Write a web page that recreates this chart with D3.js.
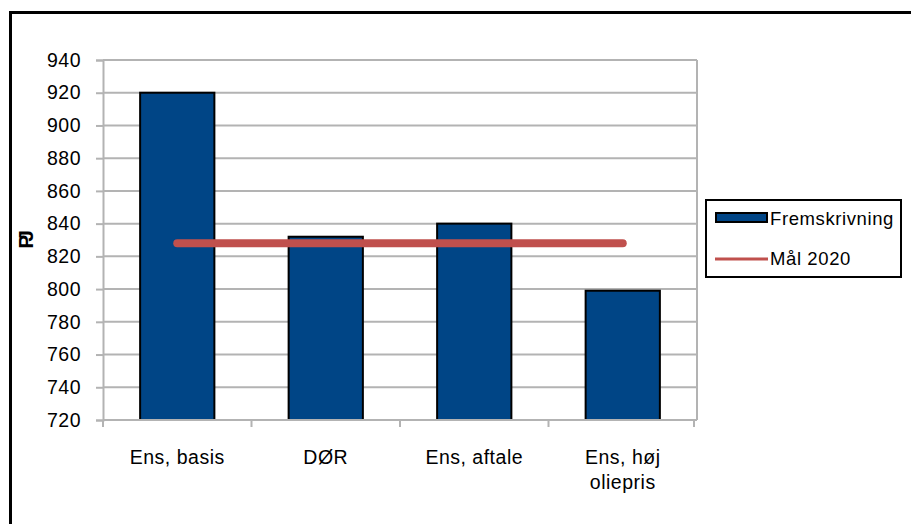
<!DOCTYPE html>
<html>
<head>
<meta charset="utf-8">
<script src="https://cdn.jsdelivr.net/npm/d3@7"></script>
<style>
  html, body { margin: 0; padding: 0; background: #fff; }
  svg text { font-family: "Liberation Sans", Arial, sans-serif; fill: #000; }
</style>
</head>
<body>
<svg id="chart" width="911" height="524"></svg>
<script>
// Scenario categories (multi-line labels split on "\n")
const categories = ["Ens, basis", "DØR", "Ens, aftale", "Ens, høj\noliepris"];
// Projected energy use (PJ) per scenario
const fremskrivning = [920, 832, 840, 799];
// 2020 target (PJ), same for all scenarios
const maal2020 = [828, 828, 828, 828];
const yTicks = [720, 740, 760, 780, 800, 820, 840, 860, 880, 900, 920, 940];
const seriesNames = ["Fremskrivning", "Mål 2020"];

const svg = d3.select("#chart");
const plot = { left: 103, right: 697, top: 60, bottom: 420 };
const blue = "#004586", red = "#c0504d", grid = "#b3b3b3";
const fontSize = 19.5, spacing = "0.5px";

// Outer frame (extends past the right and bottom edges)
svg.append("rect")
  .attr("x", 10.5).attr("y", 12.5).attr("width", 1000).attr("height", 1000)
  .attr("fill", "none").attr("stroke", "#000").attr("stroke-width", 3);

const x = d3.scaleBand().domain(categories).range([plot.left, plot.right]).padding(0);
const y = d3.scaleLinear().domain([720, 940]).range([plot.bottom, plot.top]);

// Horizontal gridlines
svg.append("g").selectAll("line").data(yTicks).join("line")
  .attr("x1", plot.left).attr("x2", plot.right)
  .attr("y1", d => y(d)).attr("y2", d => y(d))
  .attr("stroke", grid).attr("stroke-width", 2);

// Right edge of plot area
svg.append("line")
  .attr("x1", plot.right).attr("x2", plot.right)
  .attr("y1", plot.top).attr("y2", plot.bottom)
  .attr("stroke", grid).attr("stroke-width", 2);

// Y axis
const yAxis = svg.append("g").attr("transform", `translate(${plot.left},0)`)
  .call(d3.axisLeft(y).tickValues(yTicks).tickSize(7).tickPadding(15).tickFormat(d3.format("d")));
yAxis.select(".domain").attr("stroke", grid).attr("stroke-width", 2);
yAxis.selectAll(".tick line").attr("stroke", grid).attr("stroke-width", 2);
yAxis.selectAll(".tick text")
  .style("font-family", "Liberation Sans, Arial, sans-serif")
  .style("font-size", fontSize + "px").style("letter-spacing", spacing).attr("fill", "#000");

// Y axis title
svg.append("text")
  .attr("transform", "translate(33,243) rotate(-90)")
  .attr("text-anchor", "middle")
  .style("font-size", "21px").style("font-weight", "bold").style("letter-spacing", "-7px")
  .text("PJ");

// Bars
svg.append("g").selectAll("rect").data(categories).join("rect")
  .attr("x", d => x(d) + x.bandwidth() * 0.25)
  .attr("width", x.bandwidth() * 0.5)
  .attr("y", (d, i) => y(fremskrivning[i]))
  .attr("height", (d, i) => plot.bottom - y(fremskrivning[i]))
  .attr("fill", blue).attr("stroke", "#000").attr("stroke-width", 2);

// X axis
const xAxis = svg.append("g").attr("transform", `translate(0,${plot.bottom})`);
xAxis.append("line")
  .attr("x1", plot.left).attr("x2", plot.right)
  .attr("stroke", grid).attr("stroke-width", 2);
const xTickPos = categories.map(c => x(c)).concat([plot.right - 3]);
xAxis.selectAll("line.tk").data(xTickPos).join("line").attr("class", "tk")
  .attr("x1", d => d).attr("x2", d => d).attr("y1", 0).attr("y2", 7)
  .attr("stroke", grid).attr("stroke-width", 2);
const xl = xAxis.selectAll("text").data(categories).join("text")
  .attr("x", d => x(d) + x.bandwidth() / 2)
  .attr("y", 44)
  .attr("text-anchor", "middle")
  .style("font-size", fontSize + "px").style("letter-spacing", spacing);
xl.each(function(d) {
  const t = d3.select(this);
  d.split("\n").forEach((ln, i) => {
    t.append("tspan").attr("x", x(d) + x.bandwidth() / 2).attr("dy", i === 0 ? 0 : 25).text(ln);
  });
});

// Target line
const line = d3.line()
  .x((d, i) => x(categories[i]) + x.bandwidth() / 2)
  .y(d => y(d));
svg.append("path").datum(maal2020)
  .attr("d", line).attr("fill", "none")
  .attr("stroke", red).attr("stroke-width", 8).attr("stroke-linecap", "round");

// Legend
const lg = svg.append("g");
lg.append("rect").attr("x", 706).attr("y", 200).attr("width", 195).attr("height", 77)
  .attr("fill", "#fff").attr("stroke", "#000").attr("stroke-width", 2);
lg.append("rect").attr("x", 716).attr("y", 213).attr("width", 51).attr("height", 9)
  .attr("fill", blue).attr("stroke", "#000").attr("stroke-width", 2);
lg.append("line").attr("x1", 715).attr("x2", 768).attr("y1", 259).attr("y2", 259)
  .attr("stroke", red).attr("stroke-width", 3);
lg.selectAll("text").data(seriesNames).join("text")
  .attr("x", 770).attr("y", (d, i) => 225 + i * 40)
  .style("font-size", "18.5px").style("letter-spacing", "0.6px")
  .text(d => d);
</script>
</body>
</html>
